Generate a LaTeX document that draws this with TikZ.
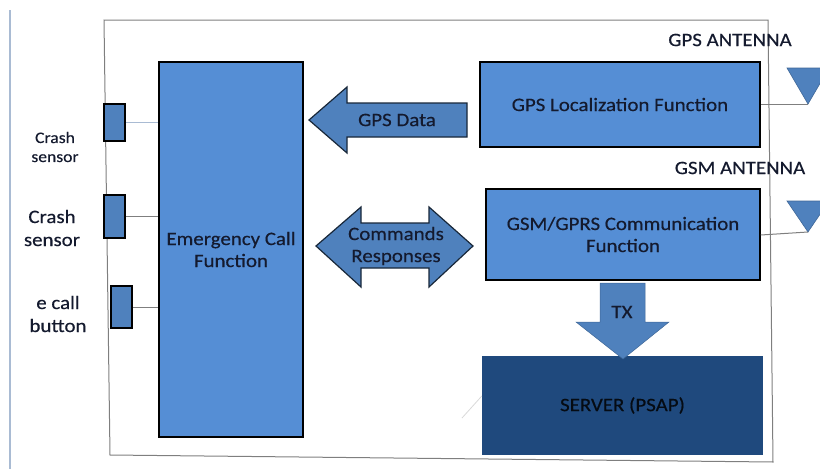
\documentclass[tikz,border=0pt]{standalone}
\usepackage{fontspec}
\setmainfont[FakeStretch=1.1,FakeBold=0.4]{Carlito}
\definecolor{boxblue}{HTML}{558ED5}
\definecolor{arrowblue}{HTML}{4F81BD}
\definecolor{darkblue}{HTML}{1F497D}
\definecolor{framegray}{HTML}{7F7F7F}
\definecolor{txt}{HTML}{141A2E}
\definecolor{sidel}{HTML}{A9BBD3}
\begin{document}
\begin{tikzpicture}[x=1pt,y=-1pt,
  every node/.style={font=\fontsize{19}{22}\selectfont,text=txt},
  box/.style={draw=black,line width=1.5pt,fill=boxblue,inner sep=0pt,align=center},
  sbox/.style={draw=black,line width=1.5pt,fill=arrowblue,inner sep=0pt,minimum width=21pt},
  blockarrow/.style={draw=black!70!arrowblue,line width=1.2pt,fill=arrowblue,line join=miter},
  wire/.style={draw=framegray,line width=1pt},
  lbl/.style={align=center,inner sep=0pt}]
\useasboundingbox (0,0) rectangle (820,469);
\clip (0,0) rectangle (820,469);
% side line and frame
\draw[sidel,line width=1.5pt] (10,10) -- (10,469);
\draw[framegray,line width=1pt] (104,20) -- (768,20) -- (773,462) -- (110,455) -- cycle;
% main boxes
\node[box,minimum width=144pt,minimum height=375pt] (ecf) at (231,249.5) {Emergency Call\\Function};
\node[box,minimum width=280pt,minimum height=85pt] (gps) at (620,104.5) {GPS Localization Function};
\node[box,minimum width=274pt,minimum height=91pt] (gsm) at (623,234.5) {GSM/GPRS Communication\\Function};
\node[fill=darkblue,inner sep=0pt,minimum width=281pt,minimum height=99pt,text=black!85!darkblue] (srv) at (622.5,405.5) {SERVER (PSAP)};
\draw[black!15,line width=0.8pt] (srv.west |- 0,396) -- (462,418);
% sensors
\node[sbox,minimum height=37pt] (s1) at (114.5,122.5) {};
\node[sbox,minimum height=43pt] (s2) at (114.5,216.5) {};
\node[sbox,minimum height=42pt] (s3) at (121.5,307) {};
\draw[sidel,line width=1pt] (s1.east) -- (ecf.west |- s1.east);
\draw[wire] (s2.east) -- (ecf.west |- s2.east);
\draw[wire] (s3.east) -- (ecf.west |- s3.east);
\node[lbl,font=\fontsize{16}{19}\selectfont] (l1) at (55,147) {Crash\\sensor};
\node[lbl,font=\fontsize{19}{23}\selectfont] (l2) at (52,228) {Crash\\sensor};
\node[lbl,font=\fontsize{19}{23}\selectfont] (l3) at (58,314) {e call\\button};
% GPS data arrow
\draw[blockarrow] (309,120) -- (347,87) -- (347,103) -- (467,103) -- (467,137) -- (347,137) -- (347,153) -- cycle;
\node[lbl] (gpsd) at (397,120) {GPS Data};
% commands / responses double arrow
\draw[blockarrow] (316,246) -- (361,207) -- (361,223) -- (429,223) -- (429,207) -- (473,246) -- (429,287) -- (429,268) -- (361,268) -- (361,287) -- cycle;
\node[lbl] (cmd) at (396,246) {Commands\\Responses};
% TX arrow
\draw[fill=arrowblue,draw=arrowblue!80!black,line width=0.5pt] (600,283) -- (645,283) -- (645,322) -- (669,322) -- (623,359) -- (576,322) -- (600,322) -- cycle;
\node[lbl] (tx) at (622,312) {TX};
% antennas
\node[lbl] (gpsant) at (730,40) {GPS ANTENNA};
\node[lbl] (gsmant) at (740,168) {GSM ANTENNA};
\coordinate (a1) at (808,104);
\coordinate (a2) at (808,232);
\draw[fill=arrowblue,draw=arrowblue!80!black,line width=0.6pt] (787,68) -- (829,68) -- (a1) -- cycle;
\draw[fill=arrowblue,draw=arrowblue!80!black,line width=0.6pt] (787,201) -- (829,201) -- (a2) -- cycle;
\draw[wire] (gps.east |- a1) -- (a1);
\draw[wire] (gsm.east |- 0,235) -- (a2);
\end{tikzpicture}
\end{document}
